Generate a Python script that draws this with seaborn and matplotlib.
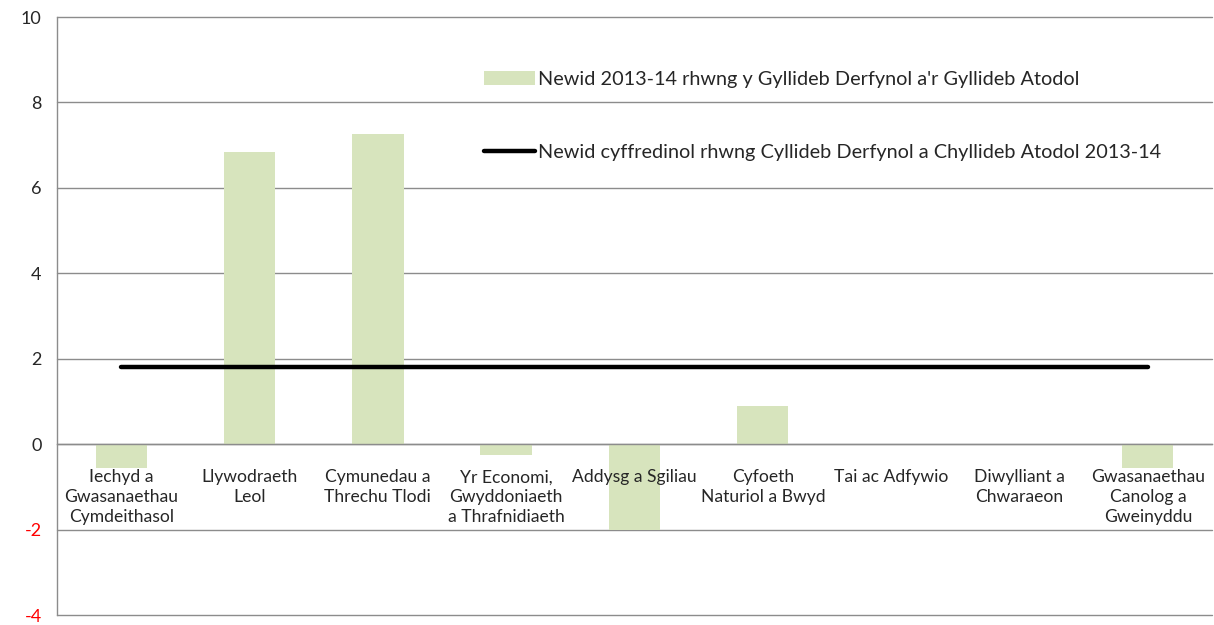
import matplotlib
matplotlib.use('Agg')
import matplotlib.pyplot as plt
import seaborn as sns
import pandas as pd
from matplotlib.ticker import FixedLocator

# Chart data
categories = [
    'Iechyd a\nGwasanaethau\nCymdeithasol',
    'Llywodraeth\nLeol',
    'Cymunedau a\nThrechu Tlodi',
    'Yr Economi,\nGwyddoniaeth\na Thrafnidiaeth',
    'Addysg a Sgiliau',
    'Cyfoeth\nNaturiol a Bwyd',
    'Tai ac Adfywio',
    'Diwylliant a\nChwaraeon',
    'Gwasanaethau\nCanolog a\nGweinyddu',
]
change_values = [-0.55, 6.85, 7.25, -0.25, -2.0, 0.9, 0.0, 0.0, -0.57]
overall_change = [1.8, 1.8, 1.8, 1.8, 1.8, 1.8, 1.8, 1.8, 1.8]
y_ticks = [-4, -2, 0, 2, 4, 6, 8, 10]

bar_label = "Newid 2013-14 rhwng y Gyllideb Derfynol a'r Gyllideb Atodol"
line_label = "Newid cyffredinol rhwng Cyllideb Derfynol a Chyllideb Atodol 2013-14"

df = pd.DataFrame({'category': categories, 'change': change_values})

sns.set_style('white')
plt.rcParams['font.family'] = ['Lato', 'DejaVu Sans']

fig = plt.figure(figsize=(12.14, 6.25), dpi=100)
ax = fig.add_axes([57 / 1214, 10 / 625, 1155 / 1214, 598 / 625])

sns.barplot(data=df, x='category', y='change', color='#D7E4BD', saturation=1,
            width=0.4, linewidth=0, ax=ax, label=bar_label)
ax.plot(range(len(categories)), overall_change, color='black', lw=3.2,
        solid_capstyle='round', label=line_label)

ax.set_xlim(-0.5, len(categories) - 0.5)
ax.set_ylim(-4, 10)
ax.set_yticks(y_ticks)
ax.set_yticklabels([str(t) for t in y_ticks])
for lbl, t in zip(ax.get_yticklabels(), y_ticks):
    if t < 0:
        lbl.set_color('red')
ax.yaxis.grid(True, color='#8C8C8C', lw=1)
for gl in ax.get_ygridlines():
    gl.set_clip_on(False)
ax.set_axisbelow(True)
ax.set_xlabel('')
ax.set_ylabel('')

# x axis sits on the zero line
ax.spines['bottom'].set_position(('data', 0))
for side in ['top', 'right']:
    ax.spines[side].set_visible(False)
for side in ['bottom', 'left']:
    ax.spines[side].set_color('#8C8C8C')
    ax.spines[side].set_linewidth(1)

ax.xaxis.set_minor_locator(FixedLocator([i + 0.5 for i in range(len(categories))]))
ax.set_xticklabels([])
ax.tick_params(axis='x', which='major', length=0)
ax.tick_params(axis='x', which='minor', length=5, color='#8C8C8C', direction='out')
ax.tick_params(axis='y', length=5, color='#8C8C8C', direction='out', pad=6, labelsize=13)

# category labels drawn on top of the bars, just under the zero line
for i, name in enumerate(categories):
    ax.annotate(name, (i, 0), xytext=(0, -18), textcoords='offset points',
                ha='center', va='top', multialignment='center', fontsize=12.6,
                linespacing=1.32, zorder=6)

handles, labels = ax.get_legend_handles_labels()
order = [labels.index(bar_label), labels.index(line_label)]
ax.legend([handles[k] for k in order], [labels[k] for k in order],
          loc='upper left', bbox_to_anchor=(0.3695, 0.91), frameon=False,
          borderaxespad=0, borderpad=0, labelspacing=2.85, handlelength=2.6,
          handletextpad=0.15, fontsize=14.3)

plt.savefig('out.png', dpi=100)
